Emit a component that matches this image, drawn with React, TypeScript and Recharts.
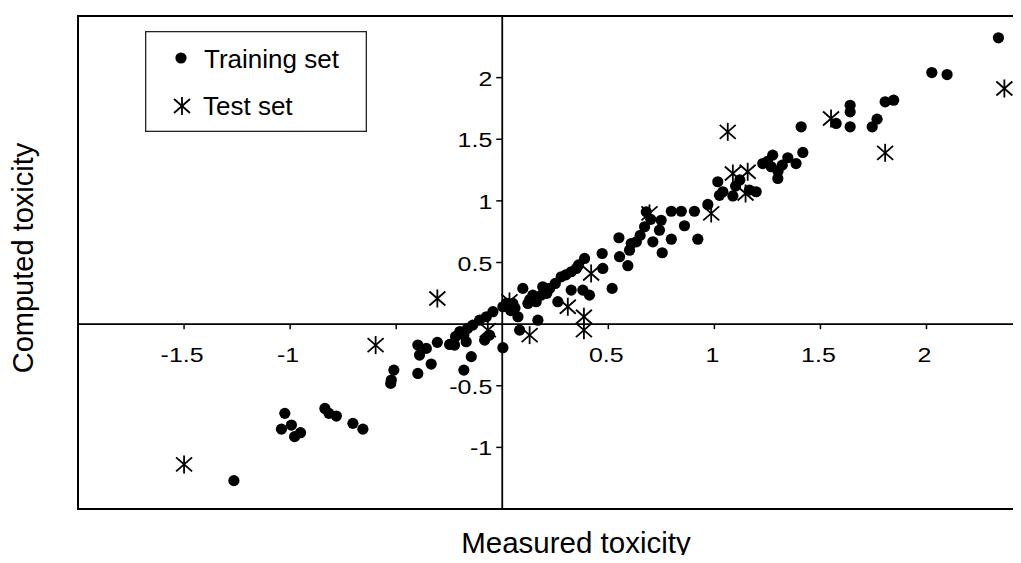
import React from "react";
import {
  ScatterChart,
  Scatter,
  XAxis,
  YAxis,
  ReferenceLine,
  ReferenceArea,
  ReferenceDot,
  Legend,
} from "recharts";

const FONT = '"Liberation Sans", Arial, sans-serif';

const seriesNames = ["Training set", "Test set"];

// [measured, computed]
const trainingSet: [number, number][] = [
  [-1.265, -1.27], [-1.025, -0.724], [-1.041, -0.852], [-0.994, -0.819],
  [-0.979, -0.913], [-0.951, -0.881], [-0.836, -0.684], [-0.817, -0.724],
  [-0.782, -0.746], [-0.704, -0.805], [-0.657, -0.852], [-0.526, -0.481],
  [-0.523, -0.454], [-0.511, -0.373], [-0.398, -0.4], [-0.398, -0.17],
  [-0.39, -0.251], [-0.358, -0.197], [-0.335, -0.324], [-0.306, -0.148],
  [-0.248, -0.165], [-0.225, -0.17], [-0.22, -0.1], [-0.2, -0.06],
  [-0.181, -0.089], [-0.17, -0.143], [-0.146, -0.264], [-0.181, -0.373],
  [-0.164, -0.035], [-0.139, -0.008], [-0.107, 0.032], [-0.075, 0.06],
  [-0.083, -0.13], [-0.044, 0.101], [-0.06, -0.089], [0.003, -0.191],
  [0.019, 0.168], [0.003, 0.141], [0.04, 0.11], [0.05, 0.168],
  [0.06, 0.13], [0.074, 0.06], [0.082, -0.049], [0.097, 0.29],
  [0.121, 0.168], [0.13, 0.2], [0.144, 0.235], [0.16, 0.182],
  [0.168, 0.032], [0.184, 0.235], [0.191, 0.303], [0.21, 0.25],
  [0.223, 0.29], [0.25, 0.33], [0.262, 0.182], [0.278, 0.384],
  [0.3, 0.4], [0.325, 0.425], [0.325, 0.276], [0.349, 0.452],
  [0.36, 0.48], [0.38, 0.276], [0.388, 0.533], [0.411, 0.235],
  [0.471, 0.573], [0.474, 0.452], [0.518, 0.29], [0.55, 0.701],
  [0.553, 0.547], [0.592, 0.474], [0.6, 0.6], [0.608, 0.654],
  [0.632, 0.668], [0.65, 0.72], [0.671, 0.79], [0.679, 0.911],
  [0.7, 0.85], [0.71, 0.668], [0.741, 0.762], [0.749, 0.843],
  [0.754, 0.579], [0.797, 0.689], [0.797, 0.916], [0.844, 0.916],
  [0.859, 0.798], [0.906, 0.916], [0.922, 0.689], [0.969, 0.971],
  [1.016, 1.155], [1.024, 1.045], [1.04, 1.074], [1.087, 1.04],
  [1.1, 1.12], [1.12, 1.17], [1.165, 1.087], [1.197, 1.074],
  [1.228, 1.303], [1.25, 1.32], [1.268, 1.277], [1.275, 1.371],
  [1.299, 1.182], [1.3, 1.24], [1.32, 1.29], [1.346, 1.35],
  [1.385, 1.303], [1.417, 1.393], [1.409, 1.601], [1.574, 1.628],
  [1.64, 1.601], [1.64, 1.722], [1.64, 1.776], [1.744, 1.601],
  [1.767, 1.663], [1.805, 1.804], [1.845, 1.817], [2.025, 2.041],
  [2.097, 2.025], [2.339, 2.323],
];

const testSet: [number, number][] = [
  [-1.5, -1.138], [-0.597, -0.17], [-0.306, 0.208], [-0.068, -0.049],
  [0.034, 0.184], [0.129, -0.089], [0.309, 0.141], [0.385, 0.06],
  [0.385, -0.049], [0.419, 0.411], [0.694, 0.898], [0.985, 0.898],
  [1.063, 1.56], [1.087, 1.222], [1.147, 1.06], [1.157, 1.236],
  [1.55, 1.668], [1.805, 1.39], [2.367, 1.912],
];

const xTicks = [-1.5, -1, -0.5, 0.5, 1, 1.5, 2];
const xTickLabels = ["-1.5", "-1", "", "0.5", "1", "1.5", "2"];
const yTicks = [2, 1.5, 1, 0.5, -0.5, -1];
const yTickLabels = ["2", "1.5", "1", "0.5", "-0.5", "-1"];

const trainingData = trainingSet.map(([x, y]) => ({ x, y }));
const testData = testSet.map(([x, y]) => ({ x, y }));

const Dot = (props: any) => (
  <circle cx={props.cx} cy={props.cy} r={5.6} fill="#000" />
);

const Asterisk = (props: any) => {
  const { cx, cy } = props;
  return (
    <g stroke="#000" strokeWidth={1.8} fill="none">
      <line x1={cx} y1={cy - 9} x2={cx} y2={cy + 9} />
      <line x1={cx - 8} y1={cy - 7} x2={cx + 8} y2={cy + 7} />
      <line x1={cx - 8} y1={cy + 7} x2={cx + 8} y2={cy - 7} />
    </g>
  );
};

// tick labels in the source figure are drawn horizontally stretched
const TickText = ({ x, y, anchor, children }: any) => (
  <text
    transform={`translate(${x},${y}) scale(1.28,1)`}
    textAnchor={anchor}
    fontFamily={FONT}
    fontSize={19.5}
    fill="#000"
  >
    {children}
  </text>
);

const xTickShape = (label: string) => (props: any) => (
  <g>
    <line x1={props.cx} y1={props.cy} x2={props.cx} y2={props.cy + 5} stroke="#000" strokeWidth={1.5} />
    {label && (
      <TickText x={props.cx - 2} y={props.cy + 37.5} anchor="middle">
        {label}
      </TickText>
    )}
  </g>
);

const yTickShape = (label: string) => (props: any) => (
  <g>
    <line x1={props.cx - 6} y1={props.cy} x2={props.cx} y2={props.cy} stroke="#000" strokeWidth={1.5} />
    <TickText x={props.cx - 10} y={props.cy + 8} anchor="end">
      {label}
    </TickText>
  </g>
);

const XTitle = () => (
  <text x={576} y={553} textAnchor="middle" fontFamily={FONT} fontSize={29.5} fill="#000">
    Measured toxicity
  </text>
);

const YTitle = () => (
  <text
    x={33}
    y={258}
    transform="rotate(-90 33 258)"
    textAnchor="middle"
    fontFamily={FONT}
    fontSize={29}
    fill="#000"
  >
    Computed toxicity
  </text>
);

const LegendBox = () => (
  <svg width={222} height={101} style={{ display: "block" }}>
    <rect x={0.65} y={0.65} width={220.7} height={99.7} fill="#fff" stroke="#222" strokeWidth={1.3} />
    {seriesNames.map((name, i) => (
      <g key={`legend-${name}`}>
        {i === 0 ? <circle cx={36} cy={27} r={5.6} fill="#000" /> : <Asterisk cx={37} cy={75} />}
        <text x={i === 0 ? 59 : 58} y={i === 0 ? 37 : 84} fontFamily={FONT} fontSize={26} fill="#000">
          {name}
        </text>
      </g>
    ))}
  </svg>
);

export default function App() {
  return (
    <div
      style={{
        margin: -8,
        width: 1021,
        height: 563,
        overflow: "hidden",
        position: "relative",
        background: "#fff",
      }}
    >
      <ScatterChart width={1080} height={563} margin={{ top: 16, right: 5, bottom: 0, left: 0 }}>
        <XAxis
          type="number"
          dataKey="x"
          domain={[-2, 2.7]}
          height={54}
          tick={false}
          tickLine={false}
          axisLine={false}
          allowDataOverflow
          label={{ content: XTitle }}
        />
        <YAxis
          type="number"
          dataKey="y"
          domain={[-1.5, 2.5]}
          width={78}
          tick={false}
          tickLine={false}
          axisLine={false}
          allowDataOverflow
          label={{ content: YTitle }}
        />
        <ReferenceArea
          x1={-2}
          x2={2.7}
          y1={-1.5}
          y2={2.5}
          fill="none"
          stroke="#000"
          strokeWidth={2}
          ifOverflow="visible"
        />
        <ReferenceLine x={0} stroke="#000" strokeWidth={1.8} />
        <ReferenceLine y={0} stroke="#000" strokeWidth={1.8} />
        {xTicks.map((v, i) => (
          <ReferenceDot key={`xt-${v}`} x={v} y={0} ifOverflow="visible" shape={xTickShape(xTickLabels[i])} />
        ))}
        {yTicks.map((v, i) => (
          <ReferenceDot key={`yt-${v}`} x={0} y={v} ifOverflow="visible" shape={yTickShape(yTickLabels[i])} />
        ))}
        <Legend
          layout="vertical"
          align="center"
          verticalAlign="middle"
          content={LegendBox}
          wrapperStyle={{ left: 145, top: 31, width: 222, height: 101 }}
        />
        <Scatter name={seriesNames[0]} data={trainingData} shape={Dot} isAnimationActive={false} />
        <Scatter name={seriesNames[1]} data={testData} shape={Asterisk} isAnimationActive={false} />
      </ScatterChart>
    </div>
  );
}
